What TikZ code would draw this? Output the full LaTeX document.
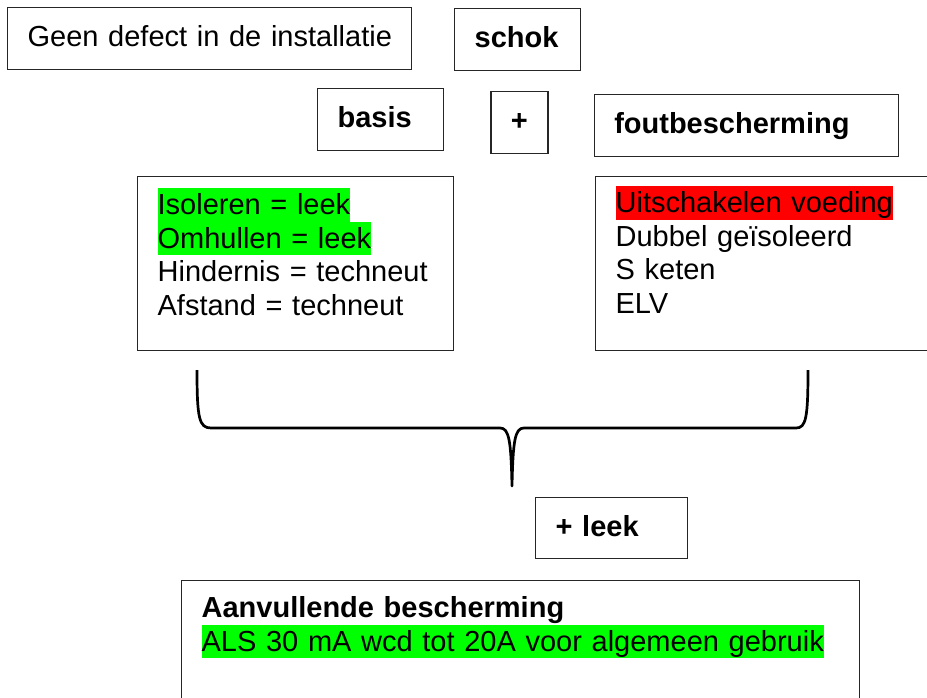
\documentclass[tikz,border=0pt]{standalone}
\usepackage{fontspec}
\setmainfont{Liberation Sans}
\usepackage{tikz}
\usetikzlibrary{positioning}
\definecolor{groen}{RGB}{0,255,0}
\definecolor{rood}{RGB}{255,0,0}
\setlength{\fboxsep}{0pt}
\newcommand{\markgroen}[1]{\colorbox{groen}{\rule[-7pt]{0pt}{33.5pt}#1}}
\newcommand{\markrood}[1]{\colorbox{rood}{\rule[-7pt]{0pt}{33.5pt}#1}}
\tikzset{
x=1pt, y=-1pt, % one unit is one pixel of the reference, y runs downwards
kopbox/.style={draw=black!85, line width=1.3pt, anchor=north west, inner xsep=20pt, inner ysep=0pt, text height=23pt, text depth=7pt, minimum height=62pt, align=left, font=\fontsize{29}{33.5}\selectfont}, % boxes with one line
vet/.style={font=\fontsize{29}{33.5}\selectfont\bfseries}, % bold headings
lijstbox/.style={draw=black!85, line width=1.3pt, anchor=north west, inner xsep=20pt, inner ysep=0pt, align=left, font=\fontsize{29}{33.5}\selectfont}, % boxes with a list
accolade/.style={line width=2.7pt, line join=round}, % the curly bracket
}
\begin{document}
\begin{tikzpicture}
            \useasboundingbox (0,0) rectangle (927,697);
            \clip (0,0) rectangle (927,697);
            \node[kopbox, text width=364pt] (geen) at (7,7) {\mbox{Geen defect in de installatie}};
            \node[kopbox, vet, text width=86pt] (schok) at (454,8) {schok};
            \node[kopbox, vet, text width=86pt] (basis) at (317,88) {basis};
            \node[kopbox, vet, minimum width=57pt, right=46pt of basis.north east, anchor=north west, yshift=-3pt] (plus) {+};
            \node[kopbox, vet, text width=264pt, right=45pt of plus.north east, anchor=north west, yshift=-3pt] (fout) {foutbescherming};
            \node[lijstbox, text width=276pt, text height=38pt, text depth=136pt] (basislijst) at (137,176)
                {\markgroen{Isoleren = leek}\\\markgroen{Omhullen = leek}\\Hindernis = techneut\\Afstand = techneut};
            \node[lijstbox, text width=305pt, text height=36pt, text depth=138pt] (foutlijst) at (595,176)
                {\markrood{Uitschakelen voeding}\\Dubbel geïsoleerd\\S keten\\ELV};
            \node[kopbox, vet, text width=112pt, minimum height=61pt] (leek) at (535,497) {+ leek};
            \node[lijstbox, text width=638pt, text height=37pt, text depth=100pt] (aanvul) at (181,580)
                {\textbf{Aanvullende bescherming}\\\markgroen{ALS 30 mA wcd tot 20A voor algemeen gebruik}};
            % curly bracket under both lists
            \coordinate (haakL) at (197,370);
            \coordinate (haakR) at (808,370);
            \coordinate (haakPunt) at (512,486);
            \draw[accolade] (haakL) .. controls (197,418) and (199,428) .. (211,428) -- (500,428)
                .. controls (509,428) and (511,440) .. (haakPunt)
                .. controls (513,440) and (515,428) .. (524,428) -- (796,428)
                .. controls (806,428) and (808,418) .. (haakR);
        \end{tikzpicture}
\end{document}
